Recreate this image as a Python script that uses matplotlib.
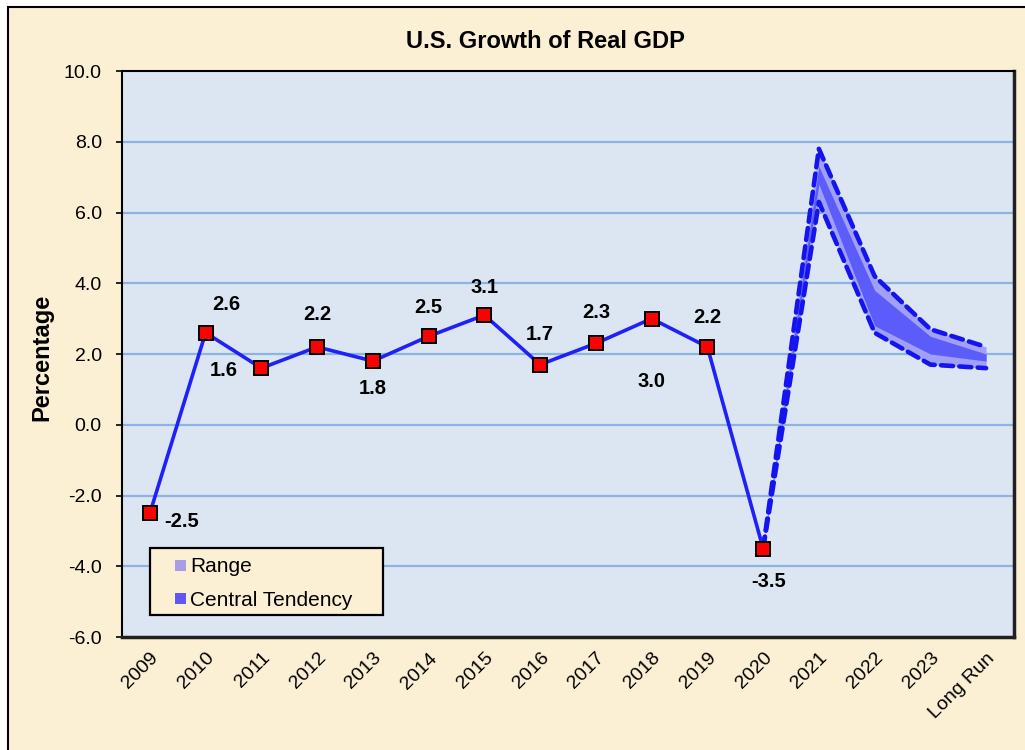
import matplotlib
matplotlib.use("Agg")
import matplotlib.pyplot as plt
from matplotlib.patches import Rectangle
import numpy as np

plt.rcParams['font.family'] = ['Liberation Sans', 'DejaVu Sans']

# ---- data ----
categories = ["2009", "2010", "2011", "2012", "2013", "2014", "2015", "2016",
              "2017", "2018", "2019", "2020", "2021", "2022", "2023", "Long Run"]
actual_values = [-2.5, 2.6, 1.6, 2.2, 1.8, 2.5, 3.1, 1.7, 2.3, 3.0, 2.2, -3.5]
# projections start from the last actual (2020) point
range_low = [-3.5, 6.3, 2.6, 1.7, 1.6]
range_high = [-3.5, 7.8, 4.2, 2.7, 2.2]
ct_low = [-3.5, 6.8, 2.8, 2.0, 1.8]
ct_high = [-3.5, 7.3, 3.8, 2.5, 2.0]
y_ticks = [-6.0, -4.0, -2.0, 0.0, 2.0, 4.0, 6.0, 8.0, 10.0]
legend_labels = ["Range", "Central Tendency"]

# label offsets (points) for each actual value label
label_offsets = [(23, -6), (15, 20), (-27, -2), (0, 23), (0, -20), (0, 21),
                 (0, 20), (0, 22), (0, 22), (0, -45), (0, 21), (4, -24)]

# ---- style ----
BEIGE = "#FBEFD4"
PLOT_BG = "#DCE6F2"
GRID = "#8DB3E2"
LINE = "#2020F8"
DASH = "#1414F0"
RANGE_C = "#A0A0F6"
CT_C = "#5C5CFA"
legend_colors = ["#A99EE6", "#5F58F5"]

W, H = 1025, 750
fig = plt.figure(figsize=(W / 100, H / 100), dpi=100, facecolor="white")


def fx(px):
    return px / W


def fy(py):
    return 1 - py / H


# outer beige frame
fig.patches.append(Rectangle((fx(8), -0.05), 1.1, fy(7) + 0.05,
                             transform=fig.transFigure, facecolor=BEIGE,
                             edgecolor="black", linewidth=1.5, zorder=-10))

ax = fig.add_axes([fx(122), fy(637), (1014 - 122) / W, (637 - 71) / H])
ax.set_facecolor(PLOT_BG)

x = np.arange(len(categories))
xa = x[:len(actual_values)]
xp = x[len(actual_values) - 1:]

for yv in y_ticks[1:-1]:
    ax.axhline(yv, color=GRID, lw=1.6, zorder=1)

ax.fill_between(xp, range_low, range_high, color=RANGE_C, lw=0, zorder=2)
ax.fill_between(xp, ct_low, ct_high, color=CT_C, lw=0, zorder=3)
ax.plot(xp, range_high, color=DASH, lw=3.3, ls=(0, (2.6, 1.4)), dash_capstyle="round", zorder=4)
ax.plot(xp, range_low, color=DASH, lw=3.3, ls=(0, (2.6, 1.4)), dash_capstyle="round", zorder=4)

ax.plot(xa, actual_values, color=LINE, lw=2.6, zorder=5)
ax.plot(xa, actual_values, ls="none", marker="s", ms=9.5, mfc="#FF0000",
        mec="black", mew=1.4, zorder=6)

for xi, v, (dx, dy) in zip(xa, actual_values, label_offsets):
    ax.annotate(f"{v:.1f}", (xi, v), xytext=(dx, dy), textcoords="offset points",
                ha="center", va="center", fontsize=14.5, fontweight="bold", zorder=7)

ax.set_xlim(-0.5, len(categories) - 0.5)
ax.set_ylim(-6, 10)
ax.set_yticks(y_ticks)
ax.set_yticklabels([f"{t:.1f}" for t in y_ticks], fontsize=14)
ax.tick_params(axis="y", direction="out", length=4.5, width=1.2, pad=10)
ax.set_xticks(x)
ax.set_xticklabels(categories, fontsize=14, rotation=45, ha="right",
                   va="top", rotation_mode="anchor")
ax.tick_params(axis="x", length=0, pad=9)

for side in ["left", "top"]:
    ax.spines[side].set_linewidth(1.5)
    ax.spines[side].set_color("black")
for side in ["right", "bottom"]:
    ax.spines[side].set_linewidth(2.5)
    ax.spines[side].set_color("#202020")

# legend box drawn manually
fig.patches.append(Rectangle((fx(150), fy(615)), (383 - 150) / W, (615 - 548) / H,
                             transform=fig.transFigure, facecolor=BEIGE,
                             edgecolor="black", linewidth=1.6, zorder=20))
for i, (lab, col) in enumerate(zip(legend_labels, legend_colors)):
    cy = 565 + i * 33
    fig.patches.append(Rectangle((fx(175), fy(cy + 5.5)), 11 / W, 11 / H,
                                 transform=fig.transFigure, facecolor=col,
                                 edgecolor="none", zorder=21))
    fig.text(fx(190), fy(cy), lab, ha="left", va="center_baseline", fontsize=15, zorder=22)

fig.text(fx(545), fy(42), "U.S. Growth of Real GDP", ha="center", va="center",
         fontsize=17, fontweight="bold")
fig.text(fx(42), fy(357), "Percentage", ha="center", va="center",
         rotation=90, fontsize=17, fontweight="bold")

fig.savefig("out.png", dpi=100, facecolor="white")
